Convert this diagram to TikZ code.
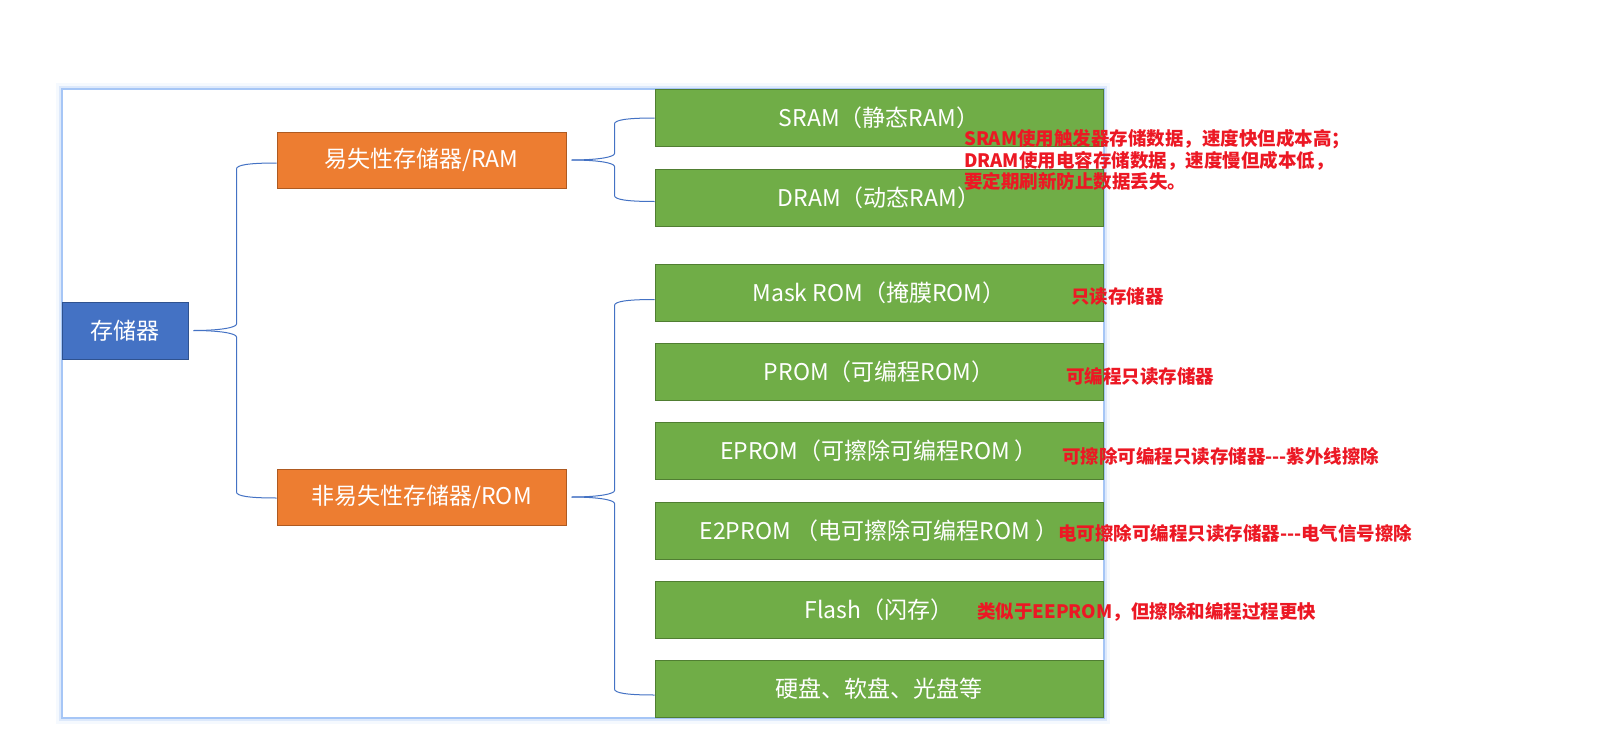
\documentclass[tikz,border=0pt]{standalone}
\usepackage{fontspec}
\newfontfamily\cjk{Noto Sans CJK SC}
\usetikzlibrary{calc}
\definecolor{rootfill}{HTML}{4472C4}
\definecolor{rootline}{HTML}{2F528F}
\definecolor{midfill}{HTML}{ED7D31}
\definecolor{midline}{HTML}{AE5A21}
\definecolor{leaffill}{HTML}{70AD47}
\definecolor{leafline}{HTML}{507E32}
\definecolor{connblue}{HTML}{4472C4}
\definecolor{notered}{RGB}{236,24,36}
\definecolor{framecol}{HTML}{A6C6F6}
\begin{document}
\begin{tikzpicture}[x=1pt,y=-1pt,
  box/.style={draw, line width=1pt, inner sep=0pt, text=white, font=\cjk\fontsize{23}{27}\selectfont},
  rootbox/.style={box, fill=rootfill, draw=rootline, minimum width=126pt, minimum height=57pt},
  midbox/.style={box, fill=midfill, draw=midline, minimum width=289pt, minimum height=56pt},
  leafbox/.style={box, fill=leaffill, draw=leafline, minimum width=448pt, minimum height=57pt},
  note/.style={anchor=west, inner sep=0pt, text=notered, font=\cjk\bfseries\fontsize{18.5}{21.7}\selectfont, align=left},
  brace/.style={to path={let \p1=(\tikztostart), \p2=(\tikztotarget), \n1={(\y2>\y1)?1:-1} in
    .. controls (\x1+27pt,\y1) and (\x1+43pt,\y1+\n1*3pt) .. (\x1+43pt,\y1+\n1*6.5pt)
    -- (\x1+43pt,\y2-\n1*6pt)
    .. controls (\x1+43pt,\y2-\n1*2pt) and (\x1+55pt,\y2) .. (\tikztotarget)}},
  conn/.style={draw=connblue, line width=1pt, brace}
]
\useasboundingbox (0,0) rectangle (1612,736);
\fill[white] (0,0) rectangle (1612,736);
% frame with soft glow
\draw[framecol, opacity=0.10, line width=6pt] (58.7,86) rectangle (1107,721);
\draw[framecol, opacity=0.30, line width=3pt] (60.2,87.5) rectangle (1105.5,719.5);
\draw[framecol, line width=1.6pt] (61.7,89) rectangle (1104,718);

% nodes
\node[rootbox] (root) at (125,330.5) {存储器};
\node[midbox] (ram) at (421.5,160) {易失性存储器/RAM};
\node[midbox] (rom) at (421.5,497) {非易失性存储器/ROM};
\node[leafbox] (sram) at (879,117.5) {SRAM（静态RAM）};
\node[leafbox] (dram) at (879,197.5) {DRAM（动态RAM）};
\node[leafbox] (mask) at (879,292.5) {Mask ROM（掩膜ROM）};
\node[leafbox] (prom) at (879,372) {PROM（可编程ROM）};
\node[leafbox] (eprom) at (879,451) {EPROM（可擦除可编程ROM ）};
\node[leafbox] (eeprom) at (879,531) {E2PROM （电可擦除可编程ROM ）};
\node[leafbox] (flash) at (879,609.5) {Flash（闪存）};
\node[leafbox] (disk) at (879,689) {硬盘、软盘、光盘等};

% connectors
\coordinate (rootout) at ($(root.east)+(5,0)$);
\coordinate (ramout) at ($(ram.east)+(5,0)$);
\coordinate (romout) at ($(rom.east)+(5,0)$);
\draw[conn] (rootout) to ($(ram.west)+(0,3)$);
\draw[conn] (rootout) to ($(rom.west)+(0,1)$);
\draw[conn] (ramout) to ($(sram.west)+(0,0.5)$);
\draw[conn] (ramout) to ($(dram.west)+(0,4)$);
\draw[conn] (romout) to ($(mask.west)+(0,7)$);
\draw[conn] (romout) to ($(disk.west)+(0,6)$);

% notes
\node[note] (n1) at (964,160) {SRAM使用触发器存储数据，速度快但成本高；\\DRAM使用电容存储数据，速度慢但成本低，\\要定期刷新防止数据丢失。};
\node[note] (n2) at (1071,296) {只读存储器};
\node[note] (n3) at (1066,376) {可编程只读存储器};
\node[note] (n4) at (1062,456) {可擦除可编程只读存储器---紫外线擦除};
\node[note] (n5) at (1058,533) {电可擦除可编程只读存储器---电气信号擦除};
\node[note] (n6) at (977,612) {类似于EEPROM，但擦除和编程过程更快};
\end{tikzpicture}
\end{document}
